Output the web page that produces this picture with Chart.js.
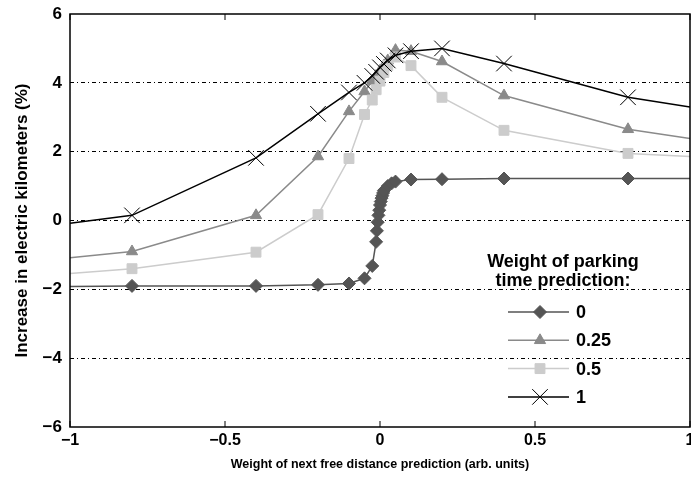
<!DOCTYPE html>
<html>
<head>
<meta charset="utf-8">
<script src="https://cdn.jsdelivr.net/npm/chart.js@4.4.1/dist/chart.umd.min.js"></script>
<style>
  html, body { margin: 0; padding: 0; background: #fff; }
  #wrap { width: 691px; height: 480px; }
</style>
</head>
<body>
<div id="wrap"><canvas id="chart"></canvas></div>
<script>
// x positions (weight of next free distance prediction)
const xFine = [-1, -0.8, -0.4, -0.2, -0.1, -0.05, -0.025, -0.0125, -0.01, -0.0075, -0.005, -0.0025, 0,
               0.0025, 0.005, 0.0075, 0.01, 0.0125, 0.025, 0.0375, 0.05, 0.1, 0.2, 0.4, 0.8, 1];
const xCoarse = [-1, -0.8, -0.4, -0.2, -0.1, -0.05, -0.025, -0.0125, 0, 0.0125, 0.025, 0.05, 0.1, 0.2, 0.4, 0.8, 1];

// series, one per weight of parking time prediction
const seriesNames = ['0', '0.25', '0.5', '1'];
const w0 = [-1.92, -1.9, -1.9, -1.87, -1.83, -1.68, -1.32, -0.62, -0.3, -0.05, 0.15, 0.3, 0.45,
            0.55, 0.65, 0.72, 0.8, 0.87, 1.0, 1.08, 1.13, 1.19, 1.2, 1.22, 1.22, 1.22];
const w025 = [-1.08, -0.9, 0.15, 1.86, 3.17, 3.75, 4.05, 4.2, 4.35, 4.5, 4.65, 4.95, 4.92, 4.62, 3.63, 2.65, 2.38];
const w05 = [-1.54, -1.4, -0.92, 0.17, 1.8, 3.08, 3.5, 3.8, 4.05, 4.3, 4.5, 4.75, 4.5, 3.58, 2.62, 1.95, 1.86];
const w1 = [-0.08, 0.15, 1.82, 3.1, 3.72, 4.0, 4.2, 4.32, 4.45, 4.55, 4.65, 4.8, 4.92, 5.0, 4.56, 3.58, 3.3];

const xTicks = [-1, -0.5, 0, 0.5, 1];
const yTicks = [-6, -4, -2, 0, 2, 4, 6];

const FONT = 'Liberation Sans, Arial, Helvetica, sans-serif';

function toPoints(xs, ys) {
    return xs.map((x, i) => ({ x: x, y: ys[i] }));
}

function fmt(v) {
    return String(v).replace('-', '\u2212');
}

// no marker on the points sitting on the left/right edge
function edgeRadius(r) {
    return ctx => {
        const p = ctx.raw;
        return p && Math.abs(p.x) === 1 ? 0 : r;
    };
}

const styles = [
    { color: '#555555', style: 'rectRot', radius: 6.5, width: 1.5, order: 3 },
    { color: '#8a8a8a', style: 'triangle', radius: 6.5, width: 1.5, order: 2 },
    { color: '#cccccc', style: 'rect', radius: 7, width: 1.5, order: 1 },
    { color: '#000000', style: 'crossRot', radius: 11, width: 1.5, order: 0 }
];
const seriesData = [toPoints(xFine, w0), toPoints(xCoarse, w025), toPoints(xCoarse, w05), toPoints(xCoarse, w1)];

const datasets = seriesNames.map((name, i) => ({
    label: name,
    data: seriesData[i],
    borderColor: styles[i].color,
    backgroundColor: styles[i].color,
    borderWidth: styles[i].width,
    pointStyle: styles[i].style,
    pointRadius: edgeRadius(styles[i].radius),
    pointBorderWidth: 1,
    pointBorderColor: styles[i].color,
    pointBackgroundColor: styles[i].color,
    tension: 0,
    order: styles[i].order
}));

// box, inward x ticks and the legend inside the plot
const matlabDecor = {
    id: 'matlabDecor',
    afterDraw(chart) {
        const c = chart.ctx;
        const a = chart.chartArea;
        const xs = chart.scales.x;
        c.save();
        c.strokeStyle = '#000';
        c.lineWidth = 1.5;
        c.strokeRect(a.left, a.top, a.right - a.left, a.bottom - a.top);
        c.lineWidth = 1;
        xTicks.forEach(v => {
            const px = xs.getPixelForValue(v);
            c.beginPath();
            c.moveTo(px, a.bottom);
            c.lineTo(px, a.bottom - 6);
            c.moveTo(px, a.top);
            c.lineTo(px, a.top + 6);
            c.stroke();
        });

        // legend
        c.fillStyle = '#000';
        c.font = 'bold 18px ' + FONT;
        c.textAlign = 'center';
        c.textBaseline = 'middle';
        c.fillText('Weight of parking', 563, 262);
        c.fillText('time prediction:', 563, 281);
        chart.data.datasets.forEach((ds, i) => {
            const y = 312 + i * 28.3;
            c.strokeStyle = ds.borderColor;
            c.lineWidth = 1.5;
            c.beginPath();
            c.moveTo(508, y);
            c.lineTo(569, y);
            c.stroke();
            c.lineWidth = 1;
            c.fillStyle = ds.backgroundColor;
            Chart.helpers.drawPoint(c, {
                pointStyle: ds.pointStyle,
                radius: styles[i].radius,
                rotation: 0,
                borderWidth: 1
            }, 540, y);
            c.fillStyle = '#000';
            c.textAlign = 'left';
            c.font = 'bold 18px ' + FONT;
            c.fillText(ds.label, 576, y + 1);
        });
        c.restore();
    }
};

new Chart(document.getElementById('chart'), {
    type: 'line',
    data: { datasets: datasets },
    options: {
        responsive: true,
        maintainAspectRatio: false,
        animation: false,
        layout: { padding: { left: 0, right: 1, top: 14, bottom: 0 } },
        plugins: {
            legend: { display: false },
            tooltip: { enabled: false }
        },
        scales: {
            x: {
                type: 'linear',
                min: -1,
                max: 1,
                afterBuildTicks: s => { s.ticks = xTicks.map(v => ({ value: v })); },
                afterFit: s => { s.height = 53; s.paddingLeft = 0; s.paddingRight = 0; },
                grid: { display: false, drawTicks: false },
                border: { display: false },
                ticks: {
                    color: '#000',
                    padding: 4,
                    maxRotation: 0,
                    font: { family: FONT, size: 16, weight: 'bold' },
                    callback: v => fmt(v)
                },
                title: {
                    display: true,
                    text: 'Weight of next free distance prediction (arb. units)',
                    color: '#000',
                    font: { family: FONT, size: 12.5, weight: 'bold' },
                    padding: { top: 0, bottom: 8 }
                }
            },
            y: {
                type: 'linear',
                min: -6,
                max: 6,
                afterBuildTicks: s => { s.ticks = yTicks.map(v => ({ value: v })); },
                afterFit: s => { s.width = 70; s.paddingTop = 0; s.paddingBottom = 0; },
                grid: {
                    drawTicks: false,
                    lineWidth: 1,
                    color: ctx => (Math.abs(ctx.tick.value) === 6 ? 'rgba(0,0,0,0)' : '#000')
                },
                border: { display: false, dash: [4, 3, 1, 3] },
                ticks: {
                    color: '#000',
                    padding: 8,
                    font: { family: FONT, size: 17, weight: 'bold' },
                    callback: v => fmt(v)
                },
                title: {
                    display: true,
                    text: 'Increase in electric kilometers (%)',
                    color: '#000',
                    font: { family: FONT, size: 17, weight: 'bold' },
                    padding: { top: 12, bottom: 0 }
                }
            }
        }
    },
    plugins: [matlabDecor]
});
</script>
</body>
</html>
